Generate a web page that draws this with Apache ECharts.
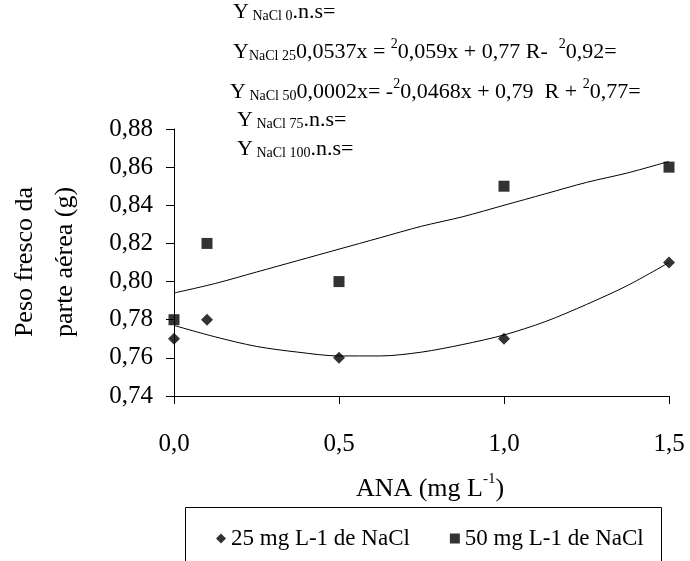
<!DOCTYPE html>
<html>
<head>
<meta charset="utf-8">
<script src="https://cdn.jsdelivr.net/npm/echarts@6/dist/echarts.min.js"></script>
<style>
html,body{margin:0;padding:0;background:#fff;}
#chart{width:690px;height:561px;}
</style>
</head>
<body>
<div id="chart"></div>
<script>
// ---- data ----
const anaDoses = [0, 0.1, 0.5, 1.0, 1.5];
const nacl25 = [0.77, 0.78, 0.76, 0.77, 0.81];
const nacl50 = [0.78, 0.82, 0.80, 0.85, 0.86];
// trend lines
const trendX  = [0, 0.125, 0.25, 0.375, 0.5, 0.625, 0.75, 0.875, 1.0, 1.125, 1.25, 1.375, 1.5];
const trend25 = [0.777, 0.771, 0.766, 0.763, 0.761, 0.761, 0.763, 0.767, 0.772, 0.779, 0.788, 0.798, 0.810];
const trend50 = [0.794, 0.799, 0.805, 0.811, 0.817, 0.823, 0.829, 0.834, 0.840, 0.846, 0.852, 0.857, 0.863];
const seriesNames = ['25 mg L-1 de NaCl', '50 mg L-1 de NaCl'];
const xTickValues = [0, 0.5, 1.0, 1.5];
const yTickValues = [0.74, 0.76, 0.78, 0.80, 0.82, 0.84, 0.86, 0.88];

const FONT = 'Liberation Serif';

function pairs(xs, ys) { return xs.map((x, i) => [x, ys[i]]); }

const eqRich = {
  b: { fontSize: 22, fontFamily: FONT, color: '#000', lineHeight: 26, verticalAlign: 'bottom' },
  sub: { fontSize: 14, fontFamily: FONT, color: '#000', lineHeight: 14, verticalAlign: 'bottom' },
  sup: { fontSize: 14, fontFamily: FONT, color: '#000', lineHeight: 14, verticalAlign: 'top' }
};

function eq(x, y, text) {
  return {
    type: 'text', left: x, top: y, silent: true,
    style: { text: text, rich: eqRich, fontFamily: FONT, fontSize: 22, fill: '#000' }
  };
}

const legendText = { color: '#000', fontFamily: FONT, fontSize: 23 };

const chart = echarts.init(document.getElementById('chart'), null, { renderer: 'canvas' });
chart.setOption({
  backgroundColor: '#fff',
  animation: false,
  textStyle: { fontFamily: FONT },
  grid: { left: 174, right: 21, top: 129, bottom: 165, containLabel: false },
  xAxis: {
    type: 'value', min: 0, max: 1.5, interval: 0.5,
    axisLine: { lineStyle: { color: '#000', width: 1 } },
    axisTick: { show: true, inside: false, length: 8, lineStyle: { color: '#000' } },
    splitLine: { show: false },
    axisLabel: {
      color: '#000', fontFamily: FONT, fontSize: 25, margin: 36,
      formatter: v => xTickValues.some(t => Math.abs(t - v) < 1e-9) ? v.toFixed(1).replace('.', ',') : ''
    }
  },
  yAxis: {
    type: 'value', min: 0.74, max: 0.88, interval: 0.02,
    axisLine: { show: true, lineStyle: { color: '#000', width: 1 } },
    axisTick: { show: true, inside: false, length: 8, lineStyle: { color: '#000' } },
    splitLine: { show: false },
    axisLabel: {
      color: '#000', fontFamily: FONT, fontSize: 25, margin: 21,
      formatter: v => yTickValues.some(t => Math.abs(t - v) < 1e-9) ? v.toFixed(2).replace('.', ',') : ''
    }
  },
  legend: {
    data: [
      { name: seriesNames[0], icon: 'diamond', textStyle: legendText },
      { name: seriesNames[1], icon: 'rect', textStyle: legendText }
    ],
    left: 211, top: 522, orient: 'horizontal',
    itemWidth: 10, itemHeight: 10, itemGap: 40,
    textStyle: legendText,
    selectedMode: false
  },
  graphic: [
    {
      type: 'rect', silent: true,
      shape: { x: 185.5, y: 507.5, width: 476, height: 100 },
      style: { fill: 'none', stroke: '#000', lineWidth: 1 }
    },
    {
      type: 'text', silent: true, x: 45, y: 262, rotation: Math.PI / 2,
      style: {
        text: 'Peso fresco da\nparte aérea (g)', fontFamily: FONT, fontSize: 26, fill: '#000',
        textAlign: 'center', textVerticalAlign: 'middle', lineHeight: 40
      }
    },
    {
      type: 'text', silent: true, x: 430, y: 487,
      style: {
        text: '{b|ANA (mg L}{sup|-1}{b|)}',
        rich: {
          b: { fontSize: 26, fontFamily: FONT, color: '#000', lineHeight: 30, verticalAlign: 'bottom' },
          sup: { fontSize: 15, fontFamily: FONT, color: '#000', lineHeight: 15, verticalAlign: 'top' }
        },
        textAlign: 'center', textVerticalAlign: 'middle'
      }
    },
    eq(233, 1, '{b|Y}{sub| NaCl 0}{b|.n.s=}'),
    eq(233, 37, '{b|Y}{sub|NaCl 25}{b|0,0537x = }{sup|2}{b|0,059x + 0,77 R-  }{sup|2}{b|0,92=}'),
    eq(230, 77, '{b|Y}{sub| NaCl 50}{b|0,0002x= -}{sup|2}{b|0,0468x + 0,79  R + }{sup|2}{b|0,77=}'),
    eq(237, 109, '{b|Y}{sub| NaCl 75}{b|.n.s=}'),
    eq(237, 138, '{b|Y}{sub| NaCl 100}{b|.n.s=}')
  ],
  series: [
    {
      name: 'trend25', type: 'line', data: pairs(trendX, trend25), smooth: 0.3,
      showSymbol: false, lineStyle: { color: '#000', width: 1 }, z: 1, silent: true
    },
    {
      name: 'trend50', type: 'line', data: pairs(trendX, trend50), smooth: 0.3,
      showSymbol: false, lineStyle: { color: '#000', width: 1 }, z: 1, silent: true
    },
    {
      name: seriesNames[0], type: 'scatter', data: pairs(anaDoses, nacl25),
      symbol: 'diamond', symbolSize: 12, itemStyle: { color: '#000' }, z: 3
    },
    {
      name: seriesNames[1], type: 'scatter', data: pairs(anaDoses, nacl50),
      symbol: 'rect', symbolSize: 11, itemStyle: { color: '#000' }, z: 3
    }
  ]
});
</script>
</body>
</html>
